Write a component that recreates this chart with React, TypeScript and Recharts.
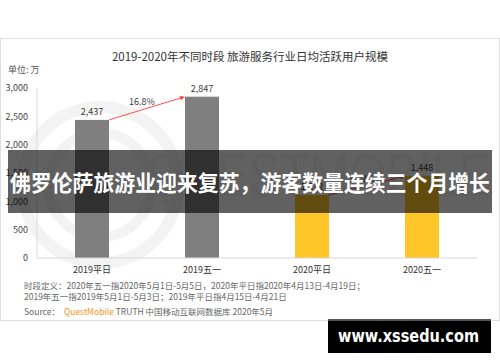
import React from 'react'
import { BarChart, Bar, XAxis, YAxis, LabelList } from 'recharts'

const categories = ['2019平日', '2019五一', '2020平日', '2020五一']
const dau = [2437, 2847, 1112, 1448]
const barColors = ['#7f7f7f', '#7f7f7f', '#ffc629', '#ffc629']
const yTicks = [0, 500, 1000, 1500, 2000, 2500, 3000]
// growth arrows start at these bars and point to the next one
const arrowFrom = [0, 2]

const title = '2019-2020年不同时段 旅游服务行业日均活跃用户规模'
const unitLabel = '单位: 万'
const noteLines = [
    '时段定义：2020年五一指2020年5月1日-5月5日，2020年平日指2020年4月13日-4月19日；',
    '2019年五一指2019年5月1日-5月3日；2019年平日指4月15日-4月21日',
]
const banner = '佛罗伦萨旅游业迎来复苏，游客数量连续三个月增长'
const siteMark = 'www.xssedu.com'

const data = categories.map((name, i) => ({ name, value: dau[i] }))

const W = 500
const H = 362
const Y_W = 37
const X_H = 30
// plot area: x 37..477, y 88..258
const margin = { top: 88, right: 23, bottom: 104 - X_H, left: 0 }
const STEP = (W - Y_W - margin.right) / categories.length
const FONT = '"Noto Sans CJK SC", "Noto Sans", sans-serif'

function GrowthBar(props: any) {
    const { x, y, width, height, index } = props
    const bar = <rect x={x} y={y} width={width} height={height} fill={barColors[index]} />
    if (!arrowFrom.includes(index)) return bar

    const from = dau[index]
    const to = dau[index + 1]
    const base = y + height
    const x1 = x + width
    const y1 = y
    const x2 = x + STEP
    const y2 = base - (to / from) * height
    const a = Math.atan2(y2 - y1, x2 - x1)
    const cos = Math.cos(a)
    const sin = Math.sin(a)
    const bx = x2 - 5 * cos
    const by = y2 - 5 * sin
    const pct = ((to / from - 1) * 100).toFixed(1) + '%'

    return (
        <g>
            {bar}
            <line x1={x1} y1={y1} x2={bx} y2={by} stroke="#ff3b3b" strokeWidth={0.9} />
            <polygon
                points={`${x2},${y2} ${bx - 2.2 * sin},${by + 2.2 * cos} ${bx + 2.2 * sin},${by - 2.2 * cos}`}
                fill="#ff3b3b"
            />
            <text x={(x1 + x2) / 2 - 5} y={(y1 + y2) / 2 - 3} textAnchor="middle" fontSize={9} fill="#404040">
                {pct}
            </text>
        </g>
    )
}

export default function App() {
    return (
        <div style={{ position: 'absolute', left: 0, top: 0, width: W, height: H, background: '#fff', fontFamily: FONT }}>
            {/* frame, watermark and texts behind the chart */}
            <svg width={W} height={H} style={{ position: 'absolute', left: 0, top: 0 }}>
                <rect x={0.5} y={38.5} width={499} height={282} fill="#fff" stroke="#dedede" />
                <g fill="none" stroke="#f3f3f3">
                    <circle cx={100} cy={185} r={78} strokeWidth={12} />
                    <circle cx={100} cy={185} r={52} strokeWidth={10} />
                </g>
                <text x={145} y={196} fontSize={62} fill="#f3f3f3" textLength={345} lengthAdjust="spacingAndGlyphs" fontFamily="Liberation Sans">
                    QUESTMOBILE
                </text>
                <text x={250} y={61} textAnchor="middle" fontSize={11.5} fill="#333">{title}</text>
                <text x={8} y={73} fontSize={9} fill="#555">{unitLabel}</text>
                {noteLines.map((t, i) => (
                    <text key={i} x={24} y={289 + i * 10.5} fontSize={8.5} fill="#666">{t}</text>
                ))}
                <text x={24} y={315} fontSize={8.5} fill="#666">
                    Source：
                    <tspan fill="#f7931e" dx={4}>QuestMobile</tspan>
                    <tspan> TRUTH 中国移动互联网数据库 2020年5月</tspan>
                </text>
            </svg>

            <div style={{ position: 'absolute', left: 0, top: 0 }}>
                <BarChart width={W} height={H} data={data} margin={margin} barSize={34}>
                    <XAxis
                        dataKey="name"
                        height={X_H}
                        stroke="#d9d9d9"
                        tickLine={false}
                        tickSize={0}
                        tickMargin={9}
                        tick={{ fontSize: 9, fill: '#333' }}
                    />
                    <YAxis
                        width={Y_W}
                        domain={[0, 3000]}
                        ticks={yTicks}
                        stroke="#d9d9d9"
                        tickLine={false}
                        tickSize={0}
                        tickMargin={9}
                        tick={{ fontSize: 9, fill: '#444' }}
                        tickFormatter={(v: number) => v.toLocaleString('en-US')}
                    />
                    <Bar dataKey="value" isAnimationActive={false} shape={(p: any) => <GrowthBar {...p} />}>
                        <LabelList
                            dataKey="value"
                            position="top"
                            offset={5}
                            fontSize={9}
                            fill="#404040"
                            formatter={(v: any) => Number(v).toLocaleString('en-US')}
                        />
                    </Bar>
                </BarChart>
            </div>

            {/* overlays on top */}
            <svg width={W} height={H} style={{ position: 'absolute', left: 0, top: 0, pointerEvents: 'none' }}>
                <rect x={8} y={150} width={484} height={63} fill="rgba(0,0,0,0.62)" />
                <text x={10} y={191} fontSize={22} fontWeight="bold" fill="#fff" textLength={480} lengthAdjust="spacingAndGlyphs">
                    {banner}
                </text>
                <rect x={328} y={319} width={163} height={34} fill="#000" />
                <rect x={328} y={319} width={163} height={2} fill="#555" />
                <text x={338} y={342} fontSize={17} fontWeight="bold" fill="#fff" fontFamily="DejaVu Sans" textLength={141} lengthAdjust="spacingAndGlyphs">
                    {siteMark}
                </text>
            </svg>
        </div>
    )
}
